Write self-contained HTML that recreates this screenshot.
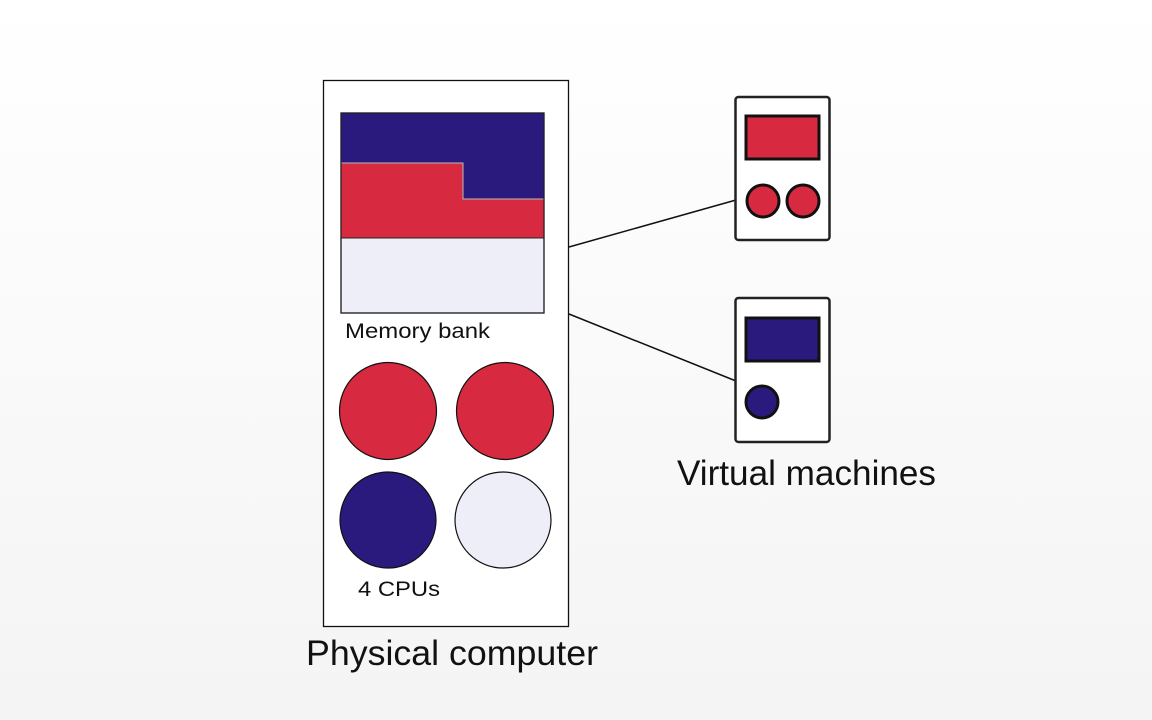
<!DOCTYPE html>
<html><head><style>
html,body{margin:0;padding:0;}
body{width:1152px;height:720px;background:linear-gradient(#ffffff,#f4f4f4);font-family:"Liberation Sans",sans-serif;overflow:hidden;}
</style></head><body>
<svg width="1152" height="720" xmlns="http://www.w3.org/2000/svg" style="position:absolute;left:0;top:0">
<rect x="323.5" y="80.5" width="245" height="546" fill="#fff" stroke="#111" stroke-width="1.3"/>
<rect x="341" y="113" width="203" height="200" fill="#eeeef9" stroke="#222" stroke-width="1.2"/>
<polygon points="341,113 544,113 544,199 463,199 463,163 341,163" fill="#2a1a7e"/>
<polygon points="341,163 463,163 463,199 544,199 544,238 341,238" fill="#d72a40" stroke="#bbb" stroke-width="1"/>
<line x1="341" y1="238" x2="544" y2="238" stroke="#222" stroke-width="1"/>
<rect x="341" y="113" width="203" height="200" fill="none" stroke="#222" stroke-width="1.2"/>
<text x="345" y="338" font-size="21" fill="#111" textLength="145" lengthAdjust="spacingAndGlyphs">Memory bank</text>
<circle cx="388" cy="411" r="48.5" fill="#d72a40" stroke="#111" stroke-width="1.2"/>
<circle cx="505" cy="411" r="48.5" fill="#d72a40" stroke="#111" stroke-width="1.2"/>
<circle cx="388" cy="520" r="48" fill="#2a1a7e" stroke="#111" stroke-width="1.2"/>
<circle cx="503" cy="520" r="48" fill="#eeeef9" stroke="#111" stroke-width="1.2"/>
<text x="358" y="596" font-size="21" fill="#111" textLength="82" lengthAdjust="spacingAndGlyphs">4 CPUs</text>
<text x="306" y="665" font-size="35" fill="#111" textLength="292" lengthAdjust="spacingAndGlyphs">Physical computer</text>
<line x1="569" y1="247" x2="736" y2="200" stroke="#111" stroke-width="1.5"/>
<line x1="569" y1="314" x2="736" y2="381" stroke="#111" stroke-width="1.5"/>
<rect x="735.5" y="97" width="94" height="143" rx="3" fill="#fff" stroke="#222" stroke-width="2.5"/>
<rect x="746" y="116" width="73" height="43" fill="#d72a40" stroke="#111" stroke-width="3"/>
<circle cx="763" cy="201" r="16" fill="#d72a40" stroke="#111" stroke-width="3"/>
<circle cx="803" cy="201" r="16" fill="#d72a40" stroke="#111" stroke-width="3"/>
<rect x="735.5" y="298" width="94" height="144" rx="3" fill="#fff" stroke="#222" stroke-width="2.5"/>
<rect x="746" y="318" width="73" height="43" fill="#2a1a7e" stroke="#111" stroke-width="3"/>
<circle cx="762" cy="402" r="16" fill="#2a1a7e" stroke="#111" stroke-width="3"/>
<text x="677" y="485" font-size="35" fill="#111" textLength="259" lengthAdjust="spacingAndGlyphs">Virtual machines</text>
</svg>
</body></html>
